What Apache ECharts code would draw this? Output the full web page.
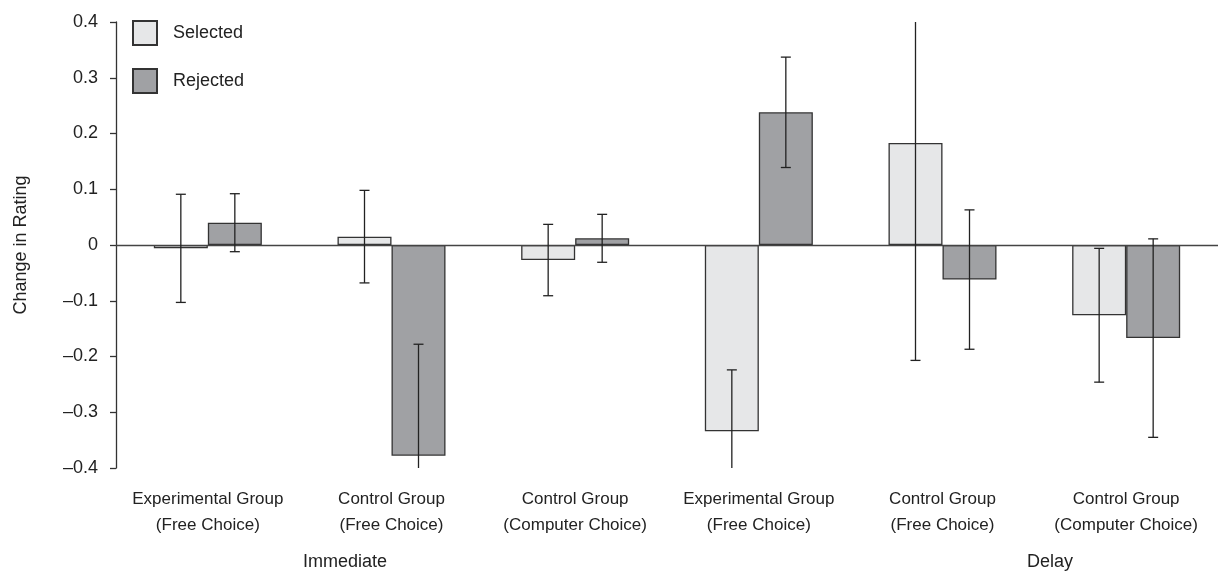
<!DOCTYPE html>
<html>
<head>
<meta charset="utf-8">
<script src="https://cdn.jsdelivr.net/npm/echarts@6/dist/echarts.min.js"></script>
<style>
  html, body { margin: 0; padding: 0; background: #fff; }
  #main { width: 1218px; height: 584px; }
</style>
</head>
<body>
<div id="main"></div>
<script>
// data
var categories = [
  'Experimental Group\n(Free Choice)',
  'Control Group\n(Free Choice)',
  'Control Group\n(Computer Choice)',
  'Experimental Group\n(Free Choice)',
  'Control Group\n(Free Choice)',
  'Control Group\n(Computer Choice)'
];
var selected = [-0.006, 0.015, -0.027, -0.334, 0.183, -0.126];
var rejected = [0.04, -0.378, 0.012, 0.238, -0.062, -0.167];
var selectedErr = [0.097, 0.083, 0.064, 0.11, 0.39, 0.12];
var rejectedErr = [0.052, 0.2, 0.043, 0.099, 0.125, 0.178];
var periods = ['Immediate', 'Delay'];

var FONT = "'Liberation Sans Narrow', 'Arial Narrow', 'Liberation Sans', sans-serif";
var YMIN = -0.4, YMAX = 0.4;
var BAR_W = 54;

var chart = echarts.init(document.getElementById('main'));

function errItems(vals, errs) {
  return vals.map(function (v, i) { return [i, v, errs[i]]; });
}

// error bar: vertical line + caps, cut at the axis ends (no cap there)
function errRender(offset) {
  return function (params, api) {
    var i = api.value(0), v = api.value(1), e = api.value(2);
    var hi = v + e, lo = v - e;
    var hiClip = hi > YMAX, loClip = lo < YMIN;
    hi = Math.min(hi, YMAX);
    lo = Math.max(lo, YMIN);
    var pHi = api.coord([i, hi]);
    var pLo = api.coord([i, lo]);
    var x = pHi[0] + offset;
    var st = { stroke: '#222', lineWidth: 1.3 };
    var kids = [{ type: 'line', shape: { x1: x, y1: pHi[1], x2: x, y2: pLo[1] }, style: st }];
    if (!hiClip) kids.push({ type: 'line', shape: { x1: x - 5, y1: pHi[1], x2: x + 5, y2: pHi[1] }, style: st });
    if (!loClip) kids.push({ type: 'line', shape: { x1: x - 5, y1: pLo[1], x2: x + 5, y2: pLo[1] }, style: st });
    return { type: 'group', children: kids };
  };
}

var option = {
  animation: false,
  textStyle: { fontFamily: FONT, color: '#222' },
  grid: { left: 116, top: 22, width: 1108, height: 446 },
  legend: {
    orient: 'vertical',
    left: 127, top: 15,
    itemWidth: 24, itemHeight: 24, itemGap: 22,
    icon: 'rect',
    textStyle: { fontFamily: FONT, fontSize: 18, color: '#222', padding: [0, 0, 0, 11] },
    data: ['Selected', 'Rejected']
  },
  xAxis: {
    type: 'category',
    data: categories,
    axisLine: { show: false },
    axisTick: { show: false },
    axisLabel: { fontFamily: FONT, fontSize: 17, lineHeight: 26, color: '#222', margin: 18, interval: 0 }
  },
  yAxis: {
    type: 'value',
    min: YMIN, max: YMAX, interval: 0.1,
    name: 'Change in Rating',
    nameLocation: 'middle',
    nameRotate: 90,
    nameGap: 86,
    nameTextStyle: { fontFamily: FONT, fontSize: 18, color: '#222' },
    axisLine: { show: true, lineStyle: { color: '#333', width: 1.3 } },
    axisTick: { show: true, length: 6, lineStyle: { color: '#333', width: 1.3 } },
    splitLine: { show: false },
    axisLabel: {
      fontFamily: FONT, fontSize: 18, color: '#222', margin: 18,
      formatter: function (v) {
        var s = Math.abs(v) < 1e-9 ? '0' : Math.abs(v).toFixed(1);
        return v < -1e-9 ? '\u2013' + s : s;
      }
    }
  },
  graphic: [
    { type: 'text', x: 345, y: 553, style: { text: periods[0], font: '18px ' + FONT, fill: '#222', align: 'center' } },
    { type: 'text', x: 1050, y: 553, style: { text: periods[1], font: '18px ' + FONT, fill: '#222', align: 'center' } }
  ],
  series: [
    {
      name: 'Selected', type: 'bar', data: selected,
      barWidth: BAR_W, barGap: '0%',
      itemStyle: { color: '#e6e7e8', borderColor: '#333', borderWidth: 1.3 },
      markLine: {
        silent: true, symbol: 'none', label: { show: false },
        lineStyle: { color: '#444', width: 1.3, type: 'solid' },
        data: [{ yAxis: 0 }]
      }
    },
    {
      name: 'Rejected', type: 'bar', data: rejected,
      barWidth: BAR_W, barGap: '0%',
      itemStyle: { color: '#a0a1a4', borderColor: '#333', borderWidth: 1.3 }
    },
    {
      type: 'custom', silent: true, z: 5,
      data: errItems(selected, selectedErr),
      renderItem: errRender(-BAR_W / 2)
    },
    {
      type: 'custom', silent: true, z: 5,
      data: errItems(rejected, rejectedErr),
      renderItem: errRender(BAR_W / 2)
    }
  ]
};
chart.setOption(option);
</script>
</body>
</html>
